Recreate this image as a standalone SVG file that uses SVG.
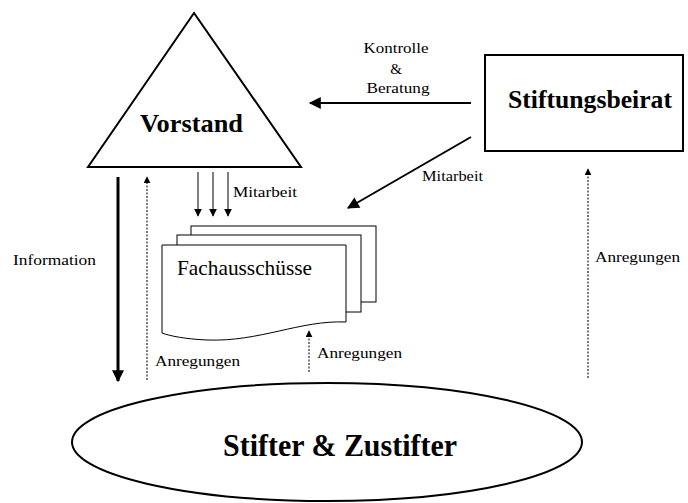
<svg xmlns="http://www.w3.org/2000/svg" width="688" height="503" viewBox="0 0 688 503">
<style>
text{font-family:"Liberation Serif","Times New Roman",serif;fill:#000}
.lbl{font-size:15px}
.shape{fill:#fff;stroke:#000;stroke-width:2}
.solid{stroke:#000;stroke-width:2;fill:none}
.dot{stroke:#222;stroke-width:1.2;stroke-dasharray:2,1.5;fill:none}
</style>
<defs>
<marker id="ah" viewBox="0 0 10 10" refX="9" refY="5" markerWidth="7" markerHeight="7" orient="auto" markerUnits="userSpaceOnUse"><path d="M0,0 L10,5 L0,10 z" fill="#000"/></marker>
<marker id="ahL" viewBox="0 0 10 10" refX="9" refY="5" markerWidth="14" markerHeight="12" orient="auto" markerUnits="userSpaceOnUse"><path d="M0,0 L10,5 L0,10 z" fill="#000"/></marker>
<marker id="ahS" viewBox="0 0 10 10" refX="9" refY="5" markerWidth="8" markerHeight="8" orient="auto" markerUnits="userSpaceOnUse"><path d="M0,0 L10,5 L0,10 z" fill="#000"/></marker>
</defs>
<rect width="688" height="503" fill="#fff"/>
<g id="vorstand">
<polygon class="shape" points="194,13 88,167 301,167"/>
<text x="191.5" y="132" font-size="25" font-weight="bold" text-anchor="middle" textLength="103" lengthAdjust="spacingAndGlyphs">Vorstand</text>
</g>
<g id="stiftungsbeirat">
<rect class="shape" x="485" y="55" width="198" height="96"/>
<text x="590" y="108" font-size="25" font-weight="bold" text-anchor="middle" textLength="164" lengthAdjust="spacingAndGlyphs">Stiftungsbeirat</text>
</g>
<g id="fachausschuesse">
<rect x="191" y="226" width="185" height="76" fill="#fff" stroke="#000" stroke-width="1"/>
<rect x="177" y="235" width="184" height="77" fill="#fff" stroke="#000" stroke-width="1"/>
<path d="M162,245 H346 V322 C300,320 260,342 207,340 C185,339 170,336 162,333 Z" fill="#fff" stroke="#000" stroke-width="1"/>
<text x="244.5" y="275" font-size="21" text-anchor="middle" textLength="135" lengthAdjust="spacingAndGlyphs">Fachausschüsse</text>
</g>
<g id="stifter">
<ellipse class="shape" cx="327" cy="442" rx="255" ry="59" stroke-width="1.5"/>
<text x="340" y="456" font-size="31" font-weight="bold" text-anchor="middle" textLength="234" lengthAdjust="spacingAndGlyphs">Stifter &amp; Zustifter</text>
</g>
<g id="connectors">
<line class="solid" x1="471" y1="103" x2="310" y2="103" marker-end="url(#ahL)"/>
<line class="solid" x1="471" y1="137" x2="348" y2="208" marker-end="url(#ahL)"/>
<line stroke="#000" stroke-width="1" x1="198" y1="172" x2="198" y2="216" marker-end="url(#ahS)"/>
<line stroke="#000" stroke-width="1" x1="213" y1="172" x2="213" y2="216" marker-end="url(#ahS)"/>
<line stroke="#000" stroke-width="1" x1="228" y1="172" x2="228" y2="216" marker-end="url(#ahS)"/>
<line stroke="#000" stroke-width="3" x1="118" y1="177" x2="118" y2="381" marker-end="url(#ahL)"/>
<line class="dot" x1="147" y1="380" x2="147" y2="177" marker-end="url(#ah)"/>
<line class="dot" x1="309" y1="372" x2="309" y2="331" marker-end="url(#ah)"/>
<line class="dot" x1="588" y1="378" x2="588" y2="169" marker-end="url(#ah)"/>
</g>
<g id="labels">
<text x="396" y="53" text-anchor="middle" class="lbl" textLength="65" lengthAdjust="spacingAndGlyphs">Kontrolle</text>
<text x="396" y="74" text-anchor="middle" class="lbl">&amp;</text>
<text x="398" y="93" text-anchor="middle" class="lbl" textLength="63" lengthAdjust="spacingAndGlyphs">Beratung</text>
<text x="422" y="181" class="lbl" textLength="61" lengthAdjust="spacingAndGlyphs">Mitarbeit</text>
<text x="233" y="197" class="lbl" textLength="64" lengthAdjust="spacingAndGlyphs">Mitarbeit</text>
<text x="13" y="265" class="lbl" textLength="83" lengthAdjust="spacingAndGlyphs">Information</text>
<text x="155" y="366" class="lbl" textLength="85" lengthAdjust="spacingAndGlyphs">Anregungen</text>
<text x="317" y="358" class="lbl" textLength="85" lengthAdjust="spacingAndGlyphs">Anregungen</text>
<text x="595" y="262" class="lbl" textLength="85" lengthAdjust="spacingAndGlyphs">Anregungen</text>
</g>
</svg>
